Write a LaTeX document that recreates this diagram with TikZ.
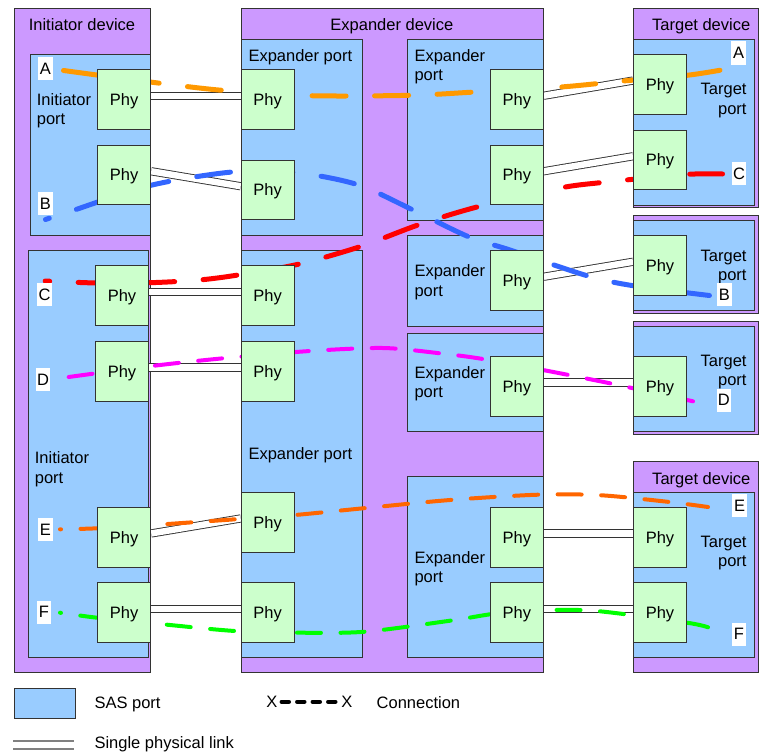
\documentclass[tikz,border=0pt]{standalone}
\usepackage{fontspec}
\setmainfont{Liberation Sans}
\definecolor{edge}{HTML}{333333}
\definecolor{devfill}{HTML}{CC99FF}
\definecolor{portfill}{HTML}{99CCFF}
\definecolor{phyfill}{HTML}{CCFFCC}
\definecolor{cA}{HTML}{FF9900}
\definecolor{cB}{HTML}{3366FF}
\definecolor{cC}{HTML}{FF0000}
\definecolor{cD}{HTML}{FF00FF}
\definecolor{cE}{HTML}{FF6600}
\definecolor{cF}{HTML}{00FF00}
% rectangular area given by its corners: style, name, x1, y1, x2, y2
\newcommand\areabox[6]{\node[#1,minimum width={#5-#3},minimum height={#6-#4}] (#2) at ({(#3+#5)/2},{(#4+#6)/2}) {};}
\begin{document}
\begin{tikzpicture}[x=1pt,y=-1pt,
  font=\fontsize{16.5}{19.3}\selectfont,
  every node/.style={inner sep=0pt},
  device/.style={rectangle,draw=edge,fill=devfill,line width=1pt},
  port/.style={rectangle,draw=edge,fill=portfill,line width=1pt},
  phy/.style={rectangle,draw=edge,fill=phyfill,line width=1pt,minimum width=53pt,minimum height=59.6pt,text height=11.8pt,text depth=0pt},
  tag/.style={fill=white,minimum width=14.5pt,minimum height=23pt,text height=11.8pt,text depth=0pt},
  link/.style={draw=edge,line width=0.9pt,double=white,double distance=6.4pt},
  wideconn/.style={line width=5pt,line cap=round,dash pattern=on 34pt off 28.5pt},
  thinconn/.style={line width=4pt,line cap=round,dash pattern=on 24pt off 19.5pt},
  multi/.style={align=left,anchor=north west},
  multir/.style={align=right,anchor=north east}]
\useasboundingbox (0,0) rectangle (759,752);

% devices
\areabox{device}{idev}{14.7}{9}{150.7}{672.7}
\areabox{device}{edev}{241.3}{9}{543.3}{672.7}
\areabox{device}{tdev1}{633.7}{9}{758.5}{207.7}
\areabox{device}{tdev2}{633.7}{215}{758.5}{313}
\areabox{device}{tdev3}{633.7}{321.7}{758.5}{434}
\areabox{device}{tdev4}{633.7}{461.7}{758.5}{672.7}

% ports
\areabox{port}{iport1}{30}{54.3}{150.7}{235}
\areabox{port}{iport2}{28}{250.3}{148.3}{657.7}
\areabox{port}{eportL1}{241.3}{39.3}{362}{235}
\areabox{port}{eportL2}{241.3}{250.3}{362}{657.7}
\areabox{port}{eportR1}{407}{39.3}{543.3}{220}
\areabox{port}{eportR2}{407}{235.7}{543.3}{326}
\areabox{port}{eportR3}{407}{333.7}{543.3}{431.3}
\areabox{port}{eportR4}{407}{476.7}{543.3}{657.7}
\areabox{port}{tport1}{633.7}{39.3}{754.3}{205}
\areabox{port}{tport2}{633.7}{220}{754.3}{310.7}
\areabox{port}{tport3}{633.7}{326}{754.3}{431.7}
\areabox{port}{tport4}{633.7}{492.3}{754.3}{657.7}

% titles and port names
\node[anchor=base] (idevtitle) at (82,31) {Initiator device};
\node[anchor=base] (edevtitle) at (391.9,31) {Expander device};
\node[anchor=base] (tdev1title) at (701.2,31) {Target device};
\node[anchor=base] (tdev4title) at (701.3,484) {Target device};
\node[multi] (ip1txt) at (36.7,93.3) {Initiator\\port};
\node[multi] (ip2txt) at (34.7,451.7) {Initiator\\port};
\node[anchor=base west] (epL1txt) at (248.3,61) {Expander port};
\node[anchor=base west] (epL2txt) at (248.3,459) {Expander port};
\node[multi] (epR1txt) at (414.3,49.3) {Expander\\port};
\node[multi] (epR2txt) at (414.3,264.7) {Expander\\port};
\node[multi] (epR3txt) at (414.3,366.5) {Expander\\port};
\node[multi] (epR4txt) at (414.3,551) {Expander\\port};
\node[multir] (tp1txt) at (746.7,83.2) {Target\\port};
\node[multir] (tp2txt) at (746.7,249.9) {Target\\port};
\node[multir] (tp3txt) at (746.7,354.9) {Target\\port};
\node[multir] (tp4txt) at (746.7,535.5) {Target\\port};

% phys (placed first so links can refer to them; drawn again on top below)
\begin{scope}[every node/.append style={phy}]
\path
  (124.2,99.5) node (iA) {} (124.2,175) node (iB) {}
  (122,295.7) node (iC) {} (122,371.2) node (iD) {}
  (124.2,537.2) node (iE) {} (124.2,612.7) node (iF) {}
  (267.7,99.5) node (eA) {} (267.7,190) node (eB) {}
  (267.7,295.7) node (eC) {} (267.7,371.2) node (eD) {}
  (267.7,522.2) node (eE) {} (267.7,612.7) node (eF) {}
  (516.8,99.5) node (rA) {} (516.8,175) node (rC) {}
  (516.8,280.5) node (rB) {} (516.8,386.2) node (rD) {}
  (516.8,537.2) node (rE) {} (516.8,612.7) node (rF) {}
  (660,84.3) node (tA) {} (660,160) node (tC) {}
  (660,265.5) node (tB) {} (660,386.2) node (tD) {}
  (660,537.2) node (tE) {} (660,612.7) node (tF) {};
\end{scope}

% single physical links
\foreach \a/\b in {iA/eA,iB/eB,iC/eC,iD/eD,iE/eE,iF/eF,rA/tA,rC/tC,rB/tB,rD/tD,rE/tE,rF/tF}
  \draw[link] ([yshift=3.75pt]\a.east) -- ([yshift=3.75pt]\b.west);

% connection end points
\coordinate (cA0) at (63.5,70.5);  \coordinate (cA1) at (722.5,69.8);
\coordinate (cB0) at (45.5,219.5); \coordinate (cB1) at (709.5,295.5);
\coordinate (cC0) at (45.2,281);   \coordinate (cC1) at (722.5,174);
\coordinate (cD0) at (68.7,377);   \coordinate (cD1) at (693,401.3);
\coordinate (cE0) at (60,529.3);   \coordinate (cE1) at (708,507);
\coordinate (cF0) at (60,612.7);   \coordinate (cF1) at (708,627.3);

% connections
\draw[wideconn,cA] plot[smooth] coordinates {(cA0) (150,82) (224,90.5) (310,95.7) (411,95.3) (475,92) (561,87) (623,81) (687,75.3) (cA1)};
\draw[wideconn,cB,dash phase=30pt] plot[smooth] coordinates {(cB0) (73,210.5) (150,185.5) (232,172) (295,172.5) (357,184.5) (413,210) (468,236.5) (510,250) (587,275.7) (633,285.7) (cB1)};
\draw[wideconn,cC,dash phase=29.5pt] plot[smooth] coordinates {(cC0) (97,283) (150,282.7) (199,280) (238,275) (298,264.3) (360,246.7) (418,225) (477,207) (560,188) (600,182.7) (633,179.3) (687,174.3) (cC1)};
\draw[thinconn,cD] plot[smooth] coordinates {(cD0) (151.7,366) (223,358.3) (310,351) (383,348) (440,353.3) (483,359) (543,370) (610,383.3) (cD1)};
\draw[thinconn,cE,dash phase=23pt] plot[smooth] coordinates {(cE0) (97,528.3) (163,524.3) (235,519.3) (295,515) (363,508.3) (450,500) (538,494.7) (600,495.2) (667,501.7) (cE1)};
\draw[thinconn,cF,dash phase=23pt] plot[smooth] coordinates {(cF0) (97,617.7) (163,624.3) (235,631) (300,632.7) (365,631.7) (450,620.7) (500,613) (553,610) (600,611.3) (687,622.7) (cF1)};

% phys on top of the connections
\foreach \p in {iA,iB,iC,iD,iE,iF,eA,eB,eC,eD,eE,eF,rA,rC,rB,rD,rE,rF,tA,tC,tB,tD,tE,tF}
  \node[phy] (\p-top) at (\p) {Phy};

% end point tags
\node[tag] (lA) at (45.5,68.3) {A};
\node[tag] (lB) at (45.5,203.8) {B};
\node[tag] (lC) at (44.7,294.7) {C};
\node[tag] (lD) at (43,379.7) {D};
\node[tag] (lE) at (45.5,529.2) {E};
\node[tag] (lF) at (43.8,612) {F};
\node[tag] (gA) at (738.7,53) {A};
\node[tag] (gC) at (739,173.7) {C};
\node[tag] (gB) at (724.3,294.7) {B};
\node[tag] (gD) at (723.8,400) {D};
\node[tag] (gE) at (739.5,505.8) {E};
\node[tag] (gF) at (739,634) {F};

% legend
\node[port,minimum width=61pt,minimum height=30pt] (legport) at (45.2,703.3) {};
\node[anchor=base west] (legporttxt) at (94.3,708.3) {SAS port};
\node[anchor=base west] (legx1) at (266.2,707.5) {X};
\node[anchor=base west] (legx2) at (341.2,707.5) {X};
\draw[black,line width=4.5pt,line cap=round,dash pattern=on 7pt off 8.5pt,shorten <=4.2pt,shorten >=4.2pt] (legx1.east) -- (legx2.west);
\node[anchor=base west] (legconntxt) at (376.5,708.3) {Connection};
\coordinate (ll0) at (13.3,745);
\coordinate (ll1) at (74,745);
\draw[link,draw=gray,line width=1.3pt,double distance=6.7pt] (ll0) -- (ll1);
\node[anchor=base west] (leglinktxt) at (94.3,748.5) {Single physical link};
\end{tikzpicture}
\end{document}
